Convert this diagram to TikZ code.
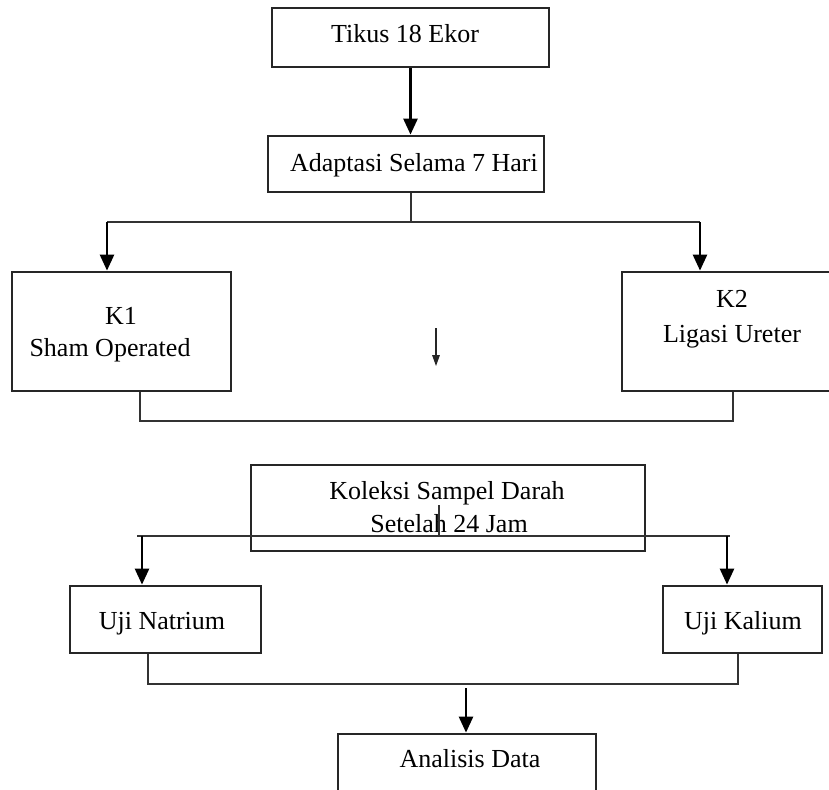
\documentclass[tikz,border=0pt]{standalone}
\usepackage{fontspec}
\setmainfont{Liberation Serif}
\usetikzlibrary{arrows.meta}
\begin{document}
\begin{tikzpicture}[x=0.5pt,y=-0.5pt,
  box/.style={draw=black!85, line width=1.4pt, inner sep=0pt, fill=none},
  txt/.style={anchor=base, inner sep=0pt, font=\fontsize{13}{16}\selectfont},
  thinline/.style={draw=black!80, line width=0.6pt},
  arr/.style={draw=black, line width=1.3pt, -{Triangle[length=8pt,width=7pt]}},
  smallarr/.style={draw=black!85, line width=0.6pt, -{Triangle[length=5.5pt,width=3.8pt]}}]
\clip (0,0) rectangle (829,789);
\fill[white] (0,0) rectangle (829,789);
% boxes
\node[box, minimum width=138.5pt, minimum height=29.5pt] (tikus) at (410.5,37.5) {};
\node[box, minimum width=138pt, minimum height=28pt] (adapt) at (406,164) {};
\node[box, minimum width=109.5pt, minimum height=59.5pt] (k1) at (121.5,331.5) {};
\node[box, minimum width=110pt, minimum height=59.5pt] (k2) at (732,331.5) {};
\node[box, minimum width=197pt, minimum height=43pt] (kol) at (448,508) {};
\node[box, minimum width=95.5pt, minimum height=33.5pt] (nat) at (165.5,619.5) {};
\node[box, minimum width=79.5pt, minimum height=33.5pt] (kal) at (742.5,619.5) {};
\node[box, minimum width=129pt, minimum height=33pt] (ana) at (467,767) {};
% texts
\node[txt] (tikust) at (405,42) {Tikus 18 Ekor};
\node[txt] (adaptt) at (414,171) {Adaptasi Selama 7 Hari};
\node[txt] (k1a) at (121,324) {K1};
\node[txt] (k1b) at (110,356) {Sham Operated};
\node[txt] (k2a) at (732,307) {K2};
\node[txt] (k2b) at (732,342) {Ligasi Ureter};
\node[txt] (kola) at (447,499) {Koleksi Sampel Darah};
\node[txt] (kolb) at (449,532) {Setelah 24 Jam};
\node[txt] (natt) at (162,629) {Uji Natrium};
\node[txt] (kalt) at (743,629) {Uji Kalium};
\node[txt] (anat) at (470,767) {Analisis Data};
% connectors
\draw[arr] (tikus.south) -- (tikus.south |- adapt.north);
\coordinate (s1) at (411,222);
\coordinate (l1) at (107,222);
\coordinate (r1) at (700,222);
\draw[thinline] (adapt.south -| s1) -- (s1);
\draw[thinline] (l1) -- (r1);
\draw[arr] (l1) -- (l1 |- k1.north);
\draw[arr] (r1) -- (r1 |- k2.north);
\coordinate (m1) at (436,328);
\coordinate (m2) at (436,366);
\draw[smallarr] (m1) -- (m2);
\coordinate (l2) at (140,421);
\coordinate (r2) at (733,421);
\draw[thinline] (l2 |- k1.south) -- (l2) -- (r2) -- (r2 |- k2.south);
\coordinate (s3t) at (439,505);
\coordinate (s3) at (439,536);
\coordinate (h3a) at (137,536);
\coordinate (h3b) at (730,536);
\coordinate (l3) at (142,536);
\coordinate (r3) at (727,536);
\draw[thinline] (s3t) -- (s3);
\draw[thinline] (h3a) -- (h3b);
\draw[arr] (l3) -- (l3 |- nat.north);
\draw[arr] (r3) -- (r3 |- kal.north);
\coordinate (l4) at (148,684);
\coordinate (r4) at (738,684);
\draw[thinline] (l4 |- nat.south) -- (l4) -- (r4) -- (r4 |- kal.south);
\coordinate (m4) at (466,688);
\draw[arr] (m4) -- (m4 |- ana.north);
\end{tikzpicture}
\end{document}
